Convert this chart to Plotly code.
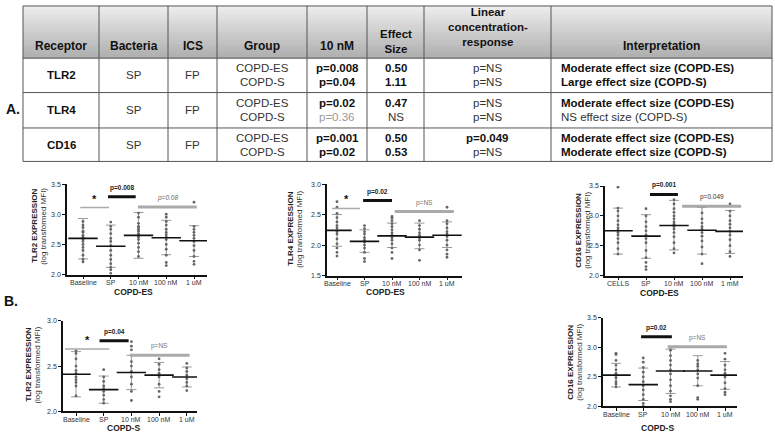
import plotly.graph_objects as go

W, H = 775, 436
FONT = "Liberation Sans, Arial, sans-serif"

# ---------------- table data ----------------
table_headers = [["Receptor"], ["Bacteria"], ["ICS"], ["Group"], ["10 nM"],
                 ["Effect", "Size"], ["Linear", "concentration-", "response"],
                 ["Interpretation"]]
receptors = ["TLR2", "TLR4", "CD16"]
bacteria = ["SP", "SP", "SP"]
ics = ["FP", "FP", "FP"]
groups = ["COPD-ES", "COPD-S"]
p_10nM = [["p=0.008", "p=0.04"], ["p=0.02", "p=0.36"], ["p=0.001", "p=0.02"]]
effect_size = [["0.50", "1.11"], ["0.47", "NS"], ["0.50", "0.53"]]
linear_cr = [["p=NS", "p=NS"], ["p=NS", "p=NS"], ["p=0.049", "p=NS"]]
interpretation = [["Moderate effect size (COPD-ES)", "Large effect size (COPD-S)"],
                  ["Moderate effect size (COPD-ES)", "NS effect size (COPD-S)"],
                  ["Moderate effect size (COPD-ES)", "Moderate effect size (COPD-S)"]]

# ---------------- plot data ----------------
conc_labels = ["Baseline", "SP", "10 nM", "100 nM", "1 uM"]
conc_labels_cells = ["CELLS", "SP", "10 nM", "100 nM", "1 mM"]

tlr2_es_points = [
    [2.21, 2.25, 2.32, 2.40, 2.45, 2.50, 2.55, 2.58, 2.60, 2.62, 2.65, 2.70, 2.72, 2.78, 2.82, 2.88],
    [2.02, 2.08, 2.12, 2.18, 2.25, 2.32, 2.40, 2.48, 2.55, 2.60, 2.68, 2.75, 2.80, 2.87],
    [2.30, 2.38, 2.45, 2.52, 2.58, 2.62, 2.65, 2.68, 2.72, 2.75, 2.78, 2.80, 2.85, 2.95, 3.02],
    [2.15, 2.20, 2.32, 2.42, 2.50, 2.58, 2.62, 2.66, 2.70, 2.75, 2.82, 2.88, 2.95, 3.00],
    [2.17, 2.22, 2.30, 2.40, 2.48, 2.55, 2.60, 2.65, 2.70, 2.75, 2.80, 3.20]]
tlr2_es_mean = [2.60, 2.47, 2.65, 2.61, 2.56]
tlr2_es_upper = [2.93, 2.82, 3.03, 2.90, 2.81]
tlr2_es_lower = [2.26, 2.12, 2.27, 2.33, 2.30]
tlr2_es_sig = [(-0.1, 0.94, 3.11, "*", "star"), (0.9, 1.9, 3.29, "p=0.008", "sig"),
               (1.98, 4.1, 3.12, "p=0.08", "trend")]

tlr4_es_points = [
    [1.82, 1.88, 1.95, 2.02, 2.10, 2.18, 2.22, 2.28, 2.32, 2.38, 2.45, 2.52, 2.62, 2.71],
    [1.73, 1.78, 1.88, 1.95, 2.00, 2.05, 2.08, 2.12, 2.18, 2.22, 2.27, 2.32],
    [1.78, 1.88, 1.95, 2.02, 2.08, 2.12, 2.16, 2.20, 2.25, 2.30, 2.35, 2.40, 2.44, 2.47],
    [1.75, 1.92, 2.00, 2.08, 2.12, 2.16, 2.20, 2.26, 2.32, 2.40],
    [1.80, 1.85, 1.92, 2.00, 2.08, 2.14, 2.18, 2.22, 2.28, 2.35, 2.40, 2.62]]
tlr4_es_mean = [2.24, 2.06, 2.15, 2.13, 2.16]
tlr4_es_upper = [2.50, 2.25, 2.36, 2.36, 2.38]
tlr4_es_lower = [1.98, 1.88, 1.96, 1.94, 1.96]
tlr4_es_sig = [(-0.18, 0.84, 2.60, "*", "star"), (0.95, 2.0, 2.73, "p=0.02", "sig"),
               (2.1, 4.25, 2.55, "p=NS", "ns")]

cd16_es_points = [
    [2.36, 2.45, 2.55, 2.62, 2.68, 2.72, 2.76, 2.80, 2.85, 2.92, 3.00, 3.08, 3.13, 3.48],
    [2.10, 2.15, 2.22, 2.30, 2.42, 2.55, 2.62, 2.68, 2.75, 2.82, 2.90, 3.00, 3.12],
    [2.38, 2.45, 2.55, 2.65, 2.72, 2.78, 2.82, 2.86, 2.90, 2.95, 3.00, 3.06, 3.12, 3.20, 3.27],
    [2.20, 2.36, 2.48, 2.58, 2.66, 2.72, 2.78, 2.82, 2.88, 2.95, 3.05, 3.15],
    [2.32, 2.40, 2.50, 2.60, 2.68, 2.74, 2.80, 2.86, 2.92, 3.00, 3.08, 3.20]]
cd16_es_mean = [2.75, 2.66, 2.84, 2.76, 2.74]
cd16_es_upper = [3.13, 3.02, 3.26, 3.14, 3.09]
cd16_es_lower = [2.36, 2.29, 2.43, 2.36, 2.37]
cd16_es_sig = [(1.14, 2.14, 3.36, "p=0.001", "sig"), (2.29, 4.4, 3.16, "p=0.049", "sig2")]

tlr2_s_points = [
    [2.17, 2.28, 2.32, 2.35, 2.38, 2.42, 2.45, 2.50, 2.58, 2.64, 2.67],
    [2.09, 2.13, 2.18, 2.22, 2.25, 2.28, 2.33, 2.38, 2.46],
    [2.12, 2.22, 2.30, 2.38, 2.44, 2.50, 2.55, 2.62, 2.68, 2.72, 2.77],
    [2.16, 2.22, 2.30, 2.38, 2.42, 2.46, 2.52, 2.58],
    [2.23, 2.28, 2.32, 2.36, 2.40, 2.44, 2.48, 2.53]]
tlr2_s_mean = [2.41, 2.24, 2.43, 2.40, 2.38]
tlr2_s_upper = [2.66, 2.39, 2.62, 2.54, 2.49]
tlr2_s_lower = [2.16, 2.09, 2.24, 2.26, 2.27]
tlr2_s_sig = [(-0.4, 1.2, 2.69, "*", "star"), (0.85, 1.9, 2.78, "p=0.04", "sig"),
              (1.95, 4.1, 2.62, "p=NS", "ns")]

cd16_s_points = [
    [2.33, 2.38, 2.42, 2.48, 2.52, 2.56, 2.62, 2.70, 2.78, 2.88, 2.90],
    [2.00, 2.05, 2.12, 2.20, 2.28, 2.35, 2.42, 2.50, 2.58, 2.66, 2.75, 2.82],
    [2.08, 2.12, 2.18, 2.26, 2.35, 2.45, 2.55, 2.62, 2.70, 2.78, 2.86, 2.95, 3.00],
    [2.12, 2.15, 2.35, 2.48, 2.55, 2.62, 2.68, 2.72, 2.78],
    [2.20, 2.24, 2.30, 2.40, 2.50, 2.56, 2.62, 2.70, 2.80, 2.90]]
cd16_s_mean = [2.53, 2.37, 2.60, 2.60, 2.53]
cd16_s_upper = [2.73, 2.65, 2.97, 2.86, 2.76]
cd16_s_lower = [2.33, 2.10, 2.22, 2.35, 2.29]
cd16_s_sig = [(0.92, 2.05, 3.18, "p=0.02", "sig"), (1.9, 4.07, 3.01, "p=NS", "ns")]


def px(x):
    return x / W


def py(y):
    return 1 - y / H


fig = go.Figure()
shapes = []
annotations = []

# ---------------- table ----------------
col_edges = [23, 99, 168, 217, 307, 367, 424, 551, 772]
row_edges = [2, 55, 90, 126, 160]
# header gradient
nb = 14
for i in range(nb):
    t = i / (nb - 1)
    g = int(236 - 60 * t)
    y0 = row_edges[0] + (row_edges[1] - row_edges[0]) * i / nb
    y1 = row_edges[0] + (row_edges[1] - row_edges[0]) * (i + 1) / nb + 0.5
    shapes.append(dict(type="rect", xref="paper", yref="paper", x0=px(col_edges[0]), x1=px(col_edges[-1]),
                       y0=py(y1), y1=py(y0), fillcolor=f"rgb({g},{g},{g})", line=dict(width=0), layer="below"))
for x in col_edges:
    shapes.append(dict(type="line", xref="paper", yref="paper", x0=px(x), x1=px(x), y0=py(row_edges[0]),
                       y1=py(row_edges[-1]), line=dict(color="#555", width=1)))
for y in row_edges:
    shapes.append(dict(type="line", xref="paper", yref="paper", x0=px(col_edges[0]), x1=px(col_edges[-1]),
                       y0=py(y), y1=py(y), line=dict(color="#555", width=1)))


def tann(text, x, y, size=11.5, bold=False, color="#222", xanchor="center"):
    t = f"<b>{text}</b>" if bold else text
    annotations.append(dict(text=t, x=px(x), y=py(y), xref="paper", yref="paper", showarrow=False,
                            xanchor=xanchor, yanchor="middle",
                            font=dict(family=FONT, size=size, color=color)))


# header text: one block per header cell
for c, lines in enumerate(table_headers):
    cx = (col_edges[c] + col_edges[c + 1]) / 2
    n = len(lines)
    centre = {1: 43, 2: 38, 3: 23}[n]
    txt = "<br>".join(f"<b>{ln}</b>" for ln in lines)
    annotations.append(dict(text=txt, x=px(cx), y=py(centre), xref="paper", yref="paper",
                            showarrow=False, xanchor="center", yanchor="middle", align="center",
                            font=dict(family=FONT, size=11.5 if n > 1 else 12, color="#111")))


def p_style(s):
    if "NS" in s:
        return False, "#333"
    v = float(s.split("=")[1])
    return (True, "#111") if v < 0.05 else (False, "#999")


for r in range(3):
    yc = (row_edges[r + 1] + row_edges[r + 2]) / 2
    ys = [yc - 7, yc + 7]
    cxs = [(col_edges[c] + col_edges[c + 1]) / 2 for c in range(8)]
    tann(receptors[r], cxs[0], yc, bold=True, color="#111")
    tann(bacteria[r], cxs[1], yc, color="#333")
    tann(ics[r], cxs[2], yc, color="#333")
    for k in range(2):
        tann(groups[k], cxs[3], ys[k], color="#333")
        b, col = p_style(p_10nM[r][k])
        tann(p_10nM[r][k], cxs[4], ys[k], bold=b, color=col)
        es = effect_size[r][k]
        tann(es, cxs[5], ys[k], bold=(es != "NS"), color="#111" if es != "NS" else "#333")
        b, col = p_style(linear_cr[r][k])
        tann(linear_cr[r][k], cxs[6], ys[k], bold=b, color=col)
        it = interpretation[r][k]
        nb_ = it.startswith("NS")
        tann(it, col_edges[7] + 8, ys[k], bold=not nb_, color="#333" if nb_ else "#111", xanchor="left")

tann("A.", 13, 107, size=14, bold=True, color="#111")
tann("B.", 11, 302, size=14, bold=True, color="#111")

# ---------------- dot plots ----------------
panels = [
    dict(cats=conc_labels, pts=tlr2_es_points, mean=tlr2_es_mean, up=tlr2_es_upper, lo=tlr2_es_lower,
         ylab="TLR2 EXPRESSION", xlab="COPD-ES", sig=tlr2_es_sig, yr=(2.0, 3.5),
         ax=(67, 207), c0=83, dc=27.75, ypx=(275, 183), yt=(39, 226), xl=(133, 293)),
    dict(cats=conc_labels, pts=tlr4_es_points, mean=tlr4_es_mean, up=tlr4_es_upper, lo=tlr4_es_lower,
         ylab="TLR4 EXPRESSION", xlab="COPD-ES", sig=tlr4_es_sig, yr=(1.5, 3.0),
         ax=(327, 462), c0=337, dc=27.5, ypx=(276, 183), yt=(295, 229), xl=(385, 293)),
    dict(cats=conc_labels_cells, pts=cd16_es_points, mean=cd16_es_mean, up=cd16_es_upper, lo=cd16_es_lower,
         ylab="CD16 EXPRESSION", xlab="COPD-ES", sig=cd16_es_sig, yr=(2.0, 3.5),
         ax=(605, 743), c0=618, dc=28, ypx=(276, 185), yt=(583, 230), xl=(659, 294)),
    dict(cats=conc_labels, pts=tlr2_s_points, mean=tlr2_s_mean, up=tlr2_s_upper, lo=tlr2_s_lower,
         ylab="TLR2 EXPRESSION", xlab="COPD-S", sig=tlr2_s_sig, yr=(2.0, 3.0),
         ax=(63, 197), c0=76, dc=27.7, ypx=(414, 322), yt=(33, 367), xl=(123, 431)),
    dict(cats=conc_labels, pts=cd16_s_points, mean=cd16_s_mean, up=cd16_s_upper, lo=cd16_s_lower,
         ylab="CD16 EXPRESSION", xlab="COPD-S", sig=cd16_s_sig, yr=(2.0, 3.5),
         ax=(603, 737), c0=616, dc=27.25, ypx=(409, 319), yt=(575, 364), xl=(657, 431)),
]

layout_axes = {}
for i, p in enumerate(panels):
    n = i + 1
    xa = "x" if n == 1 else f"x{n}"
    ya = "y" if n == 1 else f"y{n}"
    xr = [(p["ax"][0] - p["c0"]) / p["dc"], (p["ax"][1] - p["c0"]) / p["dc"]]
    xs = list(range(len(p["cats"])))
    # error bars (SD)
    fig.add_trace(go.Scatter(
        x=xs, y=p["mean"], mode="markers", marker=dict(size=0.1, color="rgba(0,0,0,0)"),
        error_y=dict(type="data", symmetric=False,
                     array=[u - m for u, m in zip(p["up"], p["mean"])],
                     arrayminus=[m - l for m, l in zip(p["mean"], p["lo"])],
                     color="#9a9a9a", thickness=1, width=5),
        xaxis=xa, yaxis=ya, showlegend=False, hoverinfo="skip"))
    # dots
    dx, dy = [], []
    for j, vals in enumerate(p["pts"]):
        dx += [j] * len(vals)
        dy += vals
    fig.add_trace(go.Scatter(x=dx, y=dy, mode="markers", marker=dict(size=2.8, color="#666"),
                             xaxis=xa, yaxis=ya, showlegend=False))
    # mean lines
    fig.add_trace(go.Scatter(x=xs, y=p["mean"], mode="markers",
                             marker=dict(symbol="line-ew", size=21, line=dict(width=1.6, color="#111")),
                             xaxis=xa, yaxis=ya, showlegend=False))
    tick_vals = [v / 2 for v in range(int(p["yr"][0] * 2), int(p["yr"][1] * 2) + 1)]
    layout_axes["xaxis" if n == 1 else f"xaxis{n}"] = dict(
        domain=[px(p["ax"][0]), px(p["ax"][1])], range=xr, anchor=ya, tickmode="array",
        tickvals=xs, showticklabels=False, showline=True, linecolor="#111", linewidth=1.5,
        ticks="outside", ticklen=3, tickcolor="#111", showgrid=False, zeroline=False)
    layout_axes["yaxis" if n == 1 else f"yaxis{n}"] = dict(
        domain=[py(p["ypx"][0]), py(p["ypx"][1])], range=list(p["yr"]), anchor=xa,
        tickvals=tick_vals, tickformat=".1f", showline=True, linecolor="#111", linewidth=1.5,
        ticks="outside", ticklen=3, tickcolor="#111", showgrid=False, zeroline=False,
        tickfont=dict(family=FONT, size=7, color="#333"))
    # category labels under the x axis
    for j, cat in enumerate(p["cats"]):
        annotations.append(dict(text=cat, x=j, y=py(p["ypx"][0] + 8.5), xref=xa, yref="paper",
                                showarrow=False, xanchor="center", yanchor="middle",
                                font=dict(family=FONT, size=7, color="#333")))
    # axis titles (two lines, tight leading)
    annotations.append(dict(text=f"<b>{p['ylab']}</b>", x=px(p["yt"][0] - 4.5),
                            y=py(p["yt"][1]), xref="paper", yref="paper", showarrow=False,
                            textangle=-90, xanchor="center", yanchor="middle",
                            font=dict(family=FONT, size=8, color="#222")))
    annotations.append(dict(text="(log transformed MFI)", x=px(p["yt"][0] + 4.5),
                            y=py(p["yt"][1]), xref="paper", yref="paper", showarrow=False,
                            textangle=-90, xanchor="center", yanchor="middle",
                            font=dict(family=FONT, size=8, color="#333")))
    annotations.append(dict(text=f"<b>{p['xlab']}</b>", x=px(p["xl"][0]), y=py(p["xl"][1]),
                            xref="paper", yref="paper", showarrow=False, xanchor="center",
                            yanchor="middle", font=dict(family=FONT, size=8.5, color="#222")))
    # significance bars
    for (x0, x1, yv, lab, kind) in p["sig"]:
        if kind == "star":
            col, w = "#aaaaaa", 1.5
        elif kind == "sig":
            col, w = "#111111", 3
        else:
            col, w = "#aaaaaa", 3
        shapes.append(dict(type="line", xref=xa, yref=ya, x0=x0, x1=x1, y0=yv, y1=yv,
                           line=dict(color=col, width=w)))
        if kind == "star":
            txt, fsz, fc, ys_ = "<b>*</b>", 11, "#111", 1
        elif kind == "sig":
            txt, fsz, fc, ys_ = f"<b>{lab}</b>", 6.5, "#222", 3
        elif kind == "sig2":
            txt, fsz, fc, ys_ = lab, 6.5, "#333", 3
        elif kind == "trend":
            txt, fsz, fc, ys_ = f"<i>{lab}</i>", 6.5, "#666", 3
        else:
            txt, fsz, fc, ys_ = lab, 6.5, "#777", 3
        annotations.append(dict(text=txt, x=(x0 + x1) / 2, y=yv, xref=xa, yref=ya, showarrow=False,
                                xanchor="center", yanchor="bottom", yshift=ys_,
                                font=dict(family=FONT, size=fsz, color=fc)))

fig.update_layout(width=W, height=H, autosize=False, margin=dict(l=0, r=0, t=0, b=0),
                  paper_bgcolor="white", plot_bgcolor="white", shapes=shapes, annotations=annotations,
                  showlegend=False, **layout_axes)
fig.write_html("out.html", config={"displayModeBar": False},
               post_script="document.body.style.margin='0';document.body.style.padding='0';"
                           "document.body.style.overflow='hidden';")
